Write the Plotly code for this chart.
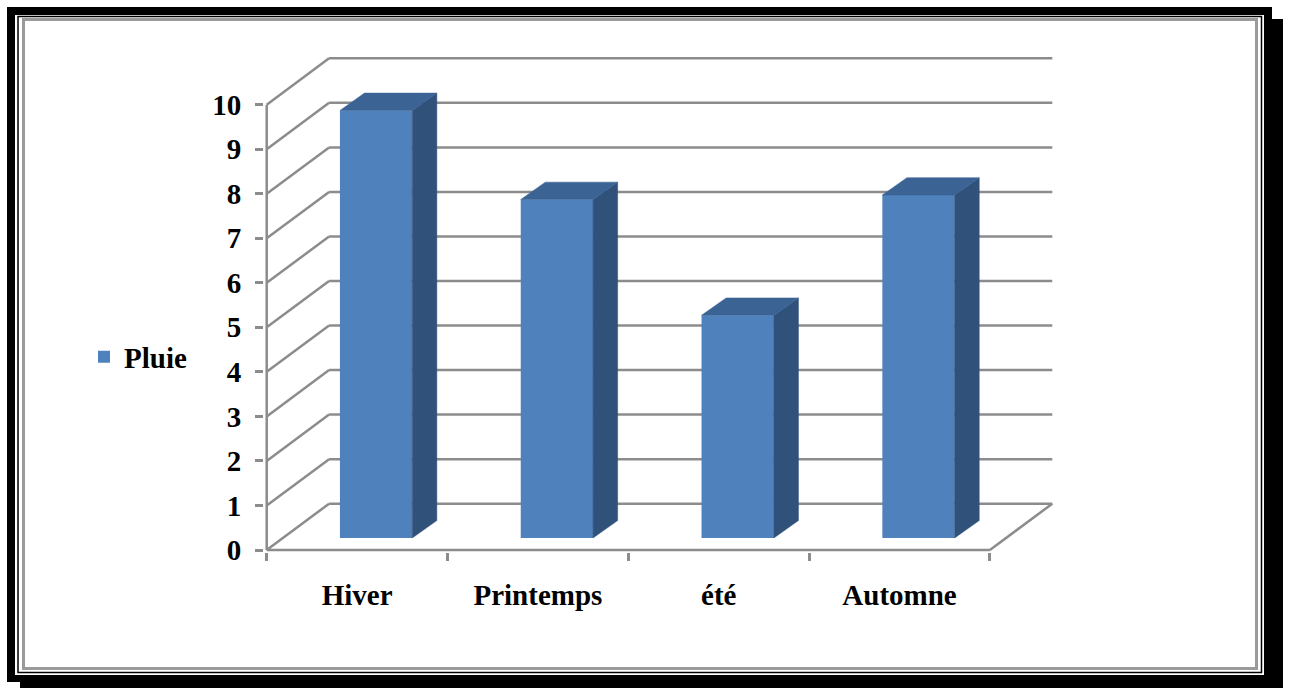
import plotly.graph_objects as go

# ---------------- data ----------------
categories = ["Hiver", "Printemps", "été", "Automne"]
pluie = [9.6, 7.6, 5.0, 7.7]
y_ticks = list(range(0, 11))
series_name = "Pluie"

# ---------------- geometry (axis units) ----------------
DX, DY = 0.345, 1.04          # depth of the 3D walls
BAR_SHIFT_X, BAR_BASE = 0.105, 0.27
BAR_W = 0.4
BAR_DX, BAR_DY = 0.136, 0.39  # depth of the bars
X0, X1 = -0.5, len(categories) - 0.5

W, H = 1290, 688
L, R, T, B = 264, 235, 57, 136
XR = [-0.515, 3.86]
YR = [-0.045, 11.07]
PW, PH = W - L - R, H - T - B

GRID = "#8c8c8c"
GW = 2.5
FRONT = "#4f81bd"
TOP = "#3b6394"
SIDE = "#30527a"
FONT = dict(family="Liberation Serif", size=29, color="black", weight="bold")


def pxx(px):
    return (px - L) / PW


def pxy(py):
    return (H - B - py) / PH


shapes = []
# frame (paper coordinates)
shapes.append(dict(type="rect", xref="paper", yref="paper", layer="below",
                   x0=pxx(20), x1=pxx(1283), y0=pxy(19), y1=pxy(689),
                   fillcolor="black", line=dict(width=0)))
shapes.append(dict(type="rect", xref="paper", yref="paper", layer="below",
                   x0=pxx(7), x1=pxx(1272), y0=pxy(7), y1=pxy(682),
                   fillcolor="black", line=dict(width=0)))
shapes.append(dict(type="rect", xref="paper", yref="paper", layer="below",
                   x0=pxx(15), x1=pxx(1264), y0=pxy(15), y1=pxy(675),
                   fillcolor="white", line=dict(width=0)))
shapes.append(dict(type="rect", xref="paper", yref="paper", layer="below",
                   x0=pxx(18), x1=pxx(1261.5), y0=pxy(16.5), y1=pxy(672.5),
                   fillcolor="rgba(0,0,0,0)", line=dict(width=1.5, color="black")))
shapes.append(dict(type="rect", xref="paper", yref="paper", layer="below",
                   x0=pxx(23.5), x1=pxx(1256.5), y0=pxy(19.5), y1=pxy(668.5),
                   fillcolor="rgba(0,0,0,0)", line=dict(width=3, color="#9a9a9a")))

# 3D walls: diagonals from the front axis and back-wall gridlines
for v in y_ticks:
    shapes.append(dict(type="line", xref="x", yref="y", layer="below",
                       x0=X0, y0=v, x1=X0 + DX, y1=v + DY,
                       line=dict(color=GRID, width=GW)))
    shapes.append(dict(type="line", xref="x", yref="y", layer="below",
                       x0=X0 + DX, y0=v + DY, x1=X1 + DX, y1=v + DY,
                       line=dict(color=GRID, width=GW)))
# front axis lines and floor edge
shapes.append(dict(type="line", xref="x", yref="y", layer="below",
                   x0=X0, y0=0, x1=X0, y1=max(y_ticks), line=dict(color=GRID, width=GW)))
shapes.append(dict(type="line", xref="x", yref="y", layer="below",
                   x0=X0, y0=0, x1=X1, y1=0, line=dict(color=GRID, width=GW)))
shapes.append(dict(type="line", xref="x", yref="y", layer="below",
                   x0=X1, y0=0, x1=X1 + DX, y1=DY, line=dict(color=GRID, width=GW)))

xc = [i + BAR_SHIFT_X for i in range(len(categories))]

fig = go.Figure()
fig.add_trace(go.Bar(x=xc, y=pluie, base=BAR_BASE, width=BAR_W, name=series_name,
                     marker=dict(color=FRONT, line=dict(width=0)),
                     hovertext=categories, hoverinfo="text+y"))

# top and side faces
tx, ty, sx, sy = [], [], [], []
for c, v in zip(xc, pluie):
    xl, xr = c - BAR_W / 2, c + BAR_W / 2
    top = BAR_BASE + v
    tx += [xl, xr, xr + BAR_DX, xl + BAR_DX, xl, None]
    ty += [top, top, top + BAR_DY, top + BAR_DY, top, None]
    sx += [xr, xr + BAR_DX, xr + BAR_DX, xr, xr, None]
    sy += [BAR_BASE, BAR_BASE + BAR_DY, top + BAR_DY, top, BAR_BASE, None]

fig.add_trace(go.Scatter(x=sx, y=sy, mode="lines", fill="toself", fillcolor=SIDE,
                         line=dict(color=SIDE, width=0.5), showlegend=False,
                         hoverinfo="skip"))
fig.add_trace(go.Scatter(x=tx, y=ty, mode="lines", fill="toself", fillcolor=TOP,
                         line=dict(color=TOP, width=0.5), showlegend=False,
                         hoverinfo="skip"))

fig.update_layout(
    width=W, height=H,
    margin=dict(l=L, r=R, t=T, b=B, pad=0),
    paper_bgcolor="white", plot_bgcolor="rgba(0,0,0,0)",
    shapes=shapes,
    showlegend=True,
    legend=dict(x=pxx(84), y=pxy(357), xanchor="left", yanchor="middle",
                font=FONT, bgcolor="rgba(0,0,0,0)", itemwidth=30),
    xaxis=dict(range=XR, tickmode="array", tickvals=list(range(len(categories))),
               ticktext=categories, ticks="", tickfont=FONT, showgrid=False,
               zeroline=False, showline=False, ticklabelstandoff=23,
               minor=dict(tickmode="array", tickvals=[X0 + i for i in range(len(categories) + 1)],
                          ticks="outside", ticklen=8, tickwidth=GW, tickcolor=GRID,
                          showgrid=False)),
    yaxis=dict(range=YR, tickmode="array", tickvals=y_ticks, ticks="outside",
               ticklen=8, tickwidth=GW, tickcolor=GRID, tickfont=FONT,
               showgrid=False, zeroline=False, showline=False,
               ticklabelstandoff=8),
)

fig.write_html("out.html")
